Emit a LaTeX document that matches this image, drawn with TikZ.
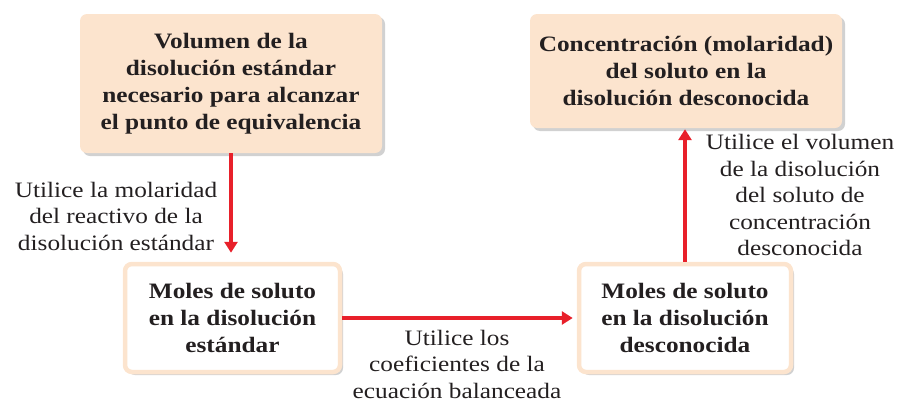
\documentclass[tikz,border=0pt]{standalone}
\usepackage{fontspec}
\setmainfont{Liberation Serif}[FakeStretch=1.15]
\usetikzlibrary{arrows.meta, positioning, shadows}
\usepackage{xcolor}
\definecolor{durazno}{RGB}{252, 228, 206}
\definecolor{rojoflecha}{RGB}{232, 32, 42}
\definecolor{textogris}{RGB}{35, 31, 32}

\begin{document}
\begin{tikzpicture}[x=1pt, y=-1pt,
                every node/.style={text=textogris, align=center},
                caja/.style={rounded corners=7pt, fill=durazno,
                    font=\fontsize{22}{27}\selectfont\bfseries,
                    drop shadow={shadow xshift=3pt, shadow yshift=-3pt, fill=black!30, opacity=0.6}},
                cajablanca/.style={caja, fill=white, draw=durazno, line width=4.5pt},
                etiqueta/.style={font=\fontsize{22}{26.5}\selectfont},
                flecha/.style={-{Triangle[length=11pt, width=13pt]}, line width=3.5pt, color=rojoflecha}
            ]
                \useasboundingbox (0,0) rectangle (905,402);
                \node[caja, minimum width=302pt, minimum height=139pt] (vol) at (231,83.5)
                    {Volumen de la\\ disolución estándar\\ necesario para alcanzar\\ el punto de equivalencia};
                \node[caja, minimum width=312pt, minimum height=114pt] (conc) at (686,71)
                    {Concentración (molaridad)\\ del soluto en la\\ disolución desconocida};
                \node[cajablanca, minimum width=215pt, minimum height=108pt] (molest) at (232.5,318)
                    {Moles de soluto\\ en la disolución\\ estándar};
                \node[cajablanca, minimum width=212pt, minimum height=108pt] (moldesc) at (685,318)
                    {Moles de soluto\\ en la disolución\\ desconocida};
                \node[etiqueta] (usomol) at (116,216) {Utilice la molaridad\\ del reactivo de la\\ disolución estándar};
                \node[etiqueta] (usocoef) at (457,364) {Utilice los\\ coeficientes de la\\ ecuación balanceada};
                \node[etiqueta] (usovol) at (800,195) {Utilice el volumen\\ de la disolución\\ del soluto de\\ concentración\\ desconocida};
                \draw[flecha, shorten >=9pt] (vol.south) -- (vol.south |- molest.north);
                \draw[flecha, shorten >=4pt] (molest.east) -- (moldesc.west);
                \draw[flecha, shorten >=1pt] (moldesc.north) -- (moldesc.north |- conc.south);
            \end{tikzpicture}
\end{document}
